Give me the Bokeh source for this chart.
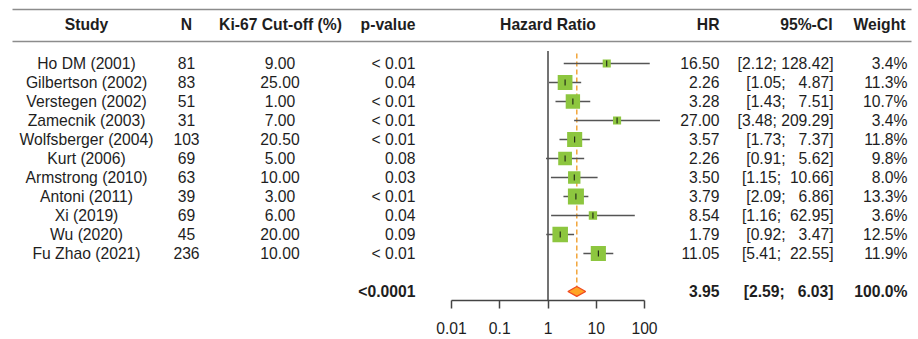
import math
from bokeh.plotting import figure
from bokeh.models import Range1d, LogScale, LogAxis, FixedTicker, CustomJSTickFormatter
from bokeh.core.properties import value
from bokeh.embed import file_html
from bokeh.resources import INLINE

# ---------------- data ----------------
studies = ["Ho DM (2001)", "Gilbertson (2002)", "Verstegen (2002)", "Zamecnik (2003)",
           "Wolfsberger (2004)", "Kurt (2006)", "Armstrong (2010)", "Antoni (2011)",
           "Xi (2019)", "Wu (2020)", "Fu Zhao (2021)"]
n_pat = [81, 83, 51, 31, 103, 69, 63, 39, 69, 45, 236]
cutoff = [9.00, 25.00, 1.00, 7.00, 20.50, 5.00, 10.00, 3.00, 6.00, 20.00, 10.00]
pvals = ["< 0.01", "0.04", "< 0.01", "< 0.01", "< 0.01", "0.08", "0.03", "< 0.01",
         "0.04", "0.09", "< 0.01"]
hr = [16.50, 2.26, 3.28, 27.00, 3.57, 2.26, 3.50, 3.79, 8.54, 1.79, 11.05]
lower = [2.12, 1.05, 1.43, 3.48, 1.73, 0.91, 1.15, 2.09, 1.16, 0.92, 5.41]
upper = [128.42, 4.87, 7.51, 209.29, 7.37, 5.62, 10.66, 6.86, 62.95, 3.47, 22.55]
weight = [3.4, 11.3, 10.7, 3.4, 11.8, 9.8, 8.0, 13.3, 3.6, 12.5, 11.9]

sum_p = "<0.0001"
sum_hr = 3.95
sum_lo = 2.59
sum_hi = 6.03
sum_w = 100.0

headers = ["Study", "N", "Ki-67 Cut-off (%)", "p-value", "Hazard Ratio", "HR", "95%-CI", "Weight"]
ticks = [0.01, 0.1, 1, 10, 100]

# ---------------- layout ----------------
W, H = 918, 339
FONT = value("Liberation Sans")
FS = "15.7px"
TXT = "#1e1e1e"
NB = "\u00a0"

rows = list(range(len(studies)))
sum_row = 12

def ci_str(lo, hi):
    return ("[%.2f; %6.2f]" % (lo, hi)).replace(" ", NB)

# log range mapped to the full frame width (1 at x=547.5, 48.25 px per decade)
lg0 = (0 - 547.5) / 48.25
lg1 = (W - 547.5) / 48.25

FRAME_H = 300
p = figure(width=W, height=H, output_backend="svg", toolbar_location=None,
           x_range=Range1d(0, W), y_range=Range1d(12.474, -63 / 19),
           x_axis_location=None, y_axis_location=None,
           min_border_left=0, min_border_right=0, min_border_top=0,
           min_border_bottom=H - FRAME_H)
p.outline_line_color = None
p.grid.visible = False
p.background_fill_color = "white"
p.border_fill_color = "white"

p.extra_x_ranges = {"hr": Range1d(10 ** lg0, 10 ** lg1)}
p.extra_x_scales = {"hr": LogScale()}

ax = LogAxis(x_range_name="hr", ticker=FixedTicker(ticks=ticks),
             formatter=CustomJSTickFormatter(code="return tick.toString()"),
             bounds=(ticks[0], ticks[-1]))
ax.axis_line_color = "#444444"
ax.axis_line_width = 1.5
ax.major_tick_line_color = "#444444"
ax.major_tick_line_width = 1.5
ax.major_tick_in = 0
ax.major_tick_out = 8
ax.minor_tick_line_color = None
ax.major_label_standoff = 13
ax.major_label_text_font = "Liberation Sans"
ax.major_label_text_font_size = FS
ax.major_label_text_color = TXT
p.add_layout(ax, "below")

# header rules
p.segment(x0=[12, 12], x1=[911, 911], y0=[-2.84, -1.16], y1=[-2.84, -1.16],
          line_color="#8c8c8c", line_width=1.6)

# header texts
hy = -2.05
def txt(xs, ys, texts, align, bold=False, rng="default"):
    kw = {}
    if rng != "default":
        kw["x_range_name"] = rng
    p.text(x=xs, y=ys, text=texts, text_font=FONT, text_font_size=FS,
           text_align=align, text_baseline="middle", text_color=TXT,
           text_font_style="bold" if bold else "normal", **kw)

txt([86], [hy], [headers[0]], "center", True)
txt([186], [hy], [headers[1]], "center", True)
txt([280], [hy], [headers[2]], "center", True)
txt([415], [hy], [headers[3]], "right", True)
txt([1], [hy], [headers[4]], "center", True, rng="hr")
txt([719], [hy], [headers[5]], "right", True)
txt([832], [hy], [headers[6]], "right", True)
txt([905], [hy], [headers[7]], "right", True)

# left columns
txt([86] * len(rows), rows, studies, "center")
txt([186] * len(rows), rows, [str(v) for v in n_pat], "center")
txt([279.5] * len(rows), rows, ["%.2f" % v for v in cutoff], "center")
txt([415] * len(rows), rows, pvals, "right")
# right columns
txt([719] * len(rows), rows, ["%.2f" % v for v in hr], "right")
txt([833] * len(rows), rows, [ci_str(a, b) for a, b in zip(lower, upper)], "right")
txt([907] * len(rows), rows, ["%.1f%%" % v for v in weight], "right")

# summary row
txt([415], [sum_row], [sum_p], "right", True)
txt([719], [sum_row], ["%.2f" % sum_hr], "right", True)
txt([833], [sum_row], [ci_str(sum_lo, sum_hi)], "right", True)
txt([907], [sum_row], ["%.1f%%" % sum_w], "right", True)

# forest: reference line at 1 and dashed summary line
p.segment(x0=[1], x1=[1], y0=[-0.66], y1=[12.474], x_range_name="hr",
          line_color="#444444", line_width=1.5)
p.segment(x0=[sum_hr], x1=[sum_hr], y0=[-0.53], y1=[sum_row - 0.26], x_range_name="hr",
          line_color="#F2A53A", line_width=1.5, line_dash="5 3")

# CI lines
p.segment(x0=lower, x1=upper, y0=rows, y1=rows, x_range_name="hr",
          line_color="#555555", line_width=1.5)
# squares (area proportional to weight)
p.scatter(x=hr, y=rows, marker="square", size=[4.39 * math.sqrt(w) for w in weight],
          fill_color="#8DC63F", line_color=None, x_range_name="hr")
# point estimate ticks
p.scatter(x=hr, y=rows, marker="dash", angle=math.pi / 2, size=6,
          line_color="#111111", line_width=1.0, x_range_name="hr")

# summary diamond
p.patch(x=[sum_lo, sum_hr, sum_hi, sum_hr],
        y=[sum_row, sum_row - 0.26, sum_row, sum_row + 0.26],
        fill_color="#FFA424", line_color="#F04A20", line_width=1.3, x_range_name="hr")

open("out.html", "w").write(file_html(p, INLINE))
